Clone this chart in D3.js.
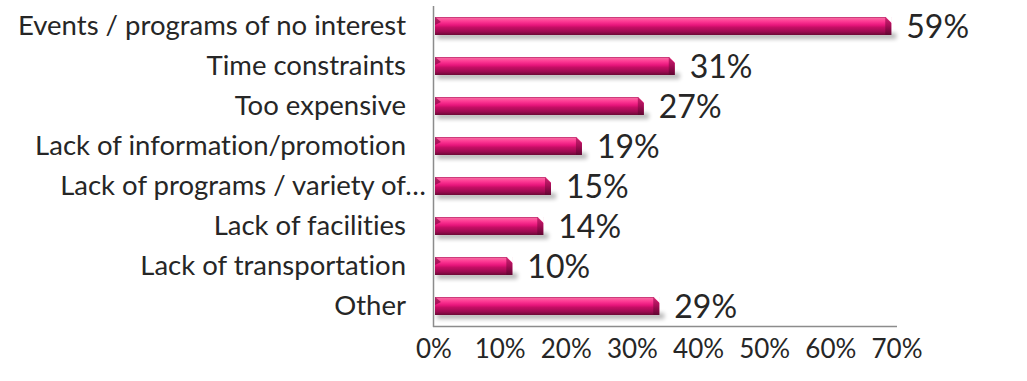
<!DOCTYPE html>
<html>
<head>
<meta charset="utf-8">
<script src="https://cdn.jsdelivr.net/npm/d3@7"></script>
<style>
  html, body { margin: 0; padding: 0; background: #ffffff; }
  svg { display: block; }
  text { font-family: Lato, "Noto Sans", sans-serif; fill: #262626; font-variant-ligatures: none; }
</style>
</head>
<body>
<svg id="chart" width="1027" height="381"></svg>
<script>
// Reasons for not attending, share of respondents (%)
const categories = [
  "Events / programs of no interest",
  "Time constraints",
  "Too expensive",
  "Lack of information/promotion",
  "Lack of programs / variety of…",
  "Lack of facilities",
  "Lack of transportation",
  "Other"
];
const values = [59, 31, 27, 19, 15, 14, 10, 29];
const tickValues = [0, 10, 20, 30, 40, 50, 60, 70];

const svg = d3.select("#chart");
const defs = svg.append("defs");

// Glossy magenta fill running top to bottom across each bar
const grad = defs.append("linearGradient")
  .attr("id", "barFill").attr("x1", 0).attr("y1", 0).attr("x2", 0).attr("y2", 1);
[
  [0.00, "#b8276a"], [0.08, "#f6639f"], [0.22, "#ff3e96"], [0.45, "#e8157c"],
  [0.58, "#c40e64"], [0.82, "#9c0b51"], [1.00, "#6c0835"]
].forEach(([o, c]) => grad.append("stop").attr("offset", o).attr("stop-color", c));

const capGrad = defs.append("linearGradient")
  .attr("id", "capFill").attr("x1", 0).attr("y1", 0).attr("x2", 0).attr("y2", 1);
[[0, "#c21a68"], [0.5, "#9a0c50"], [1, "#5e0630"]]
  .forEach(([o, c]) => capGrad.append("stop").attr("offset", o).attr("stop-color", c));

defs.append("filter").attr("id", "soft").attr("x", "-20%").attr("y", "-100%")
  .attr("width", "140%").attr("height", "300%")
  .append("feGaussianBlur").attr("stdDeviation", 2);

// Scales: bars sit on the receding floor, tick labels on the front edge
const xBar = d3.scaleLinear().domain([0, 60]).range([435, 899]);
const xAxis = d3.scaleLinear().domain([0, 70]).range([434, 897]);
const y = d3.scaleBand().domain(categories).range([6, 326])
  .paddingInner(0.55).paddingOuter(0.275);

const rows = categories.map((c, i) => ({ cat: c, v: values[i] }));

// Shadows under the bars
svg.append("g").selectAll("rect").data(rows).join("rect")
  .attr("x", d => xBar(0) + 2)
  .attr("y", d => y(d.cat) + y.bandwidth() - 2)
  .attr("width", d => xBar(d.v) - xBar(0) + 3)
  .attr("height", 6)
  .attr("fill", "#000").attr("opacity", 0.28)
  .attr("filter", "url(#soft)");

// Bars
const bars = svg.append("g").selectAll("g").data(rows).join("g");
bars.append("rect")
  .attr("x", xBar(0))
  .attr("y", d => y(d.cat))
  .attr("width", d => xBar(d.v) - xBar(0))
  .attr("height", y.bandwidth())
  .attr("fill", "url(#barFill)");

// Bevelled end face of each bar
bars.append("path")
  .attr("d", d => {
    const x1 = xBar(d.v), y0 = y(d.cat), y1 = y0 + y.bandwidth(), b = 6;
    return `M${x1 - b},${y0}L${x1},${y0 + b}L${x1},${y1}L${x1 - b},${y1}Z`;
  })
  .attr("fill", "url(#capFill)").attr("opacity", 0.85);
bars.append("path")
  .attr("d", d => {
    const x1 = xBar(d.v), y0 = y(d.cat), b = 6;
    return `M${x1 - b},${y0 - 0.5}L${x1 + 0.5},${y0 - 0.5}L${x1 + 0.5},${y0 + b}Z`;
  })
  .attr("fill", "#ffffff");
// Small chamfer at the start of each bar
bars.append("path")
  .attr("d", d => {
    const x0 = xBar(0), y0 = y(d.cat);
    return `M${x0},${y0}L${x0 + 6},${y0 + 5}L${x0},${y0 + 8}Z`;
  })
  .attr("fill", "#8a0a48").attr("opacity", 0.7);

// Axis frame
svg.append("line")
  .attr("x1", 433.5).attr("x2", 433.5).attr("y1", 6).attr("y2", 327)
  .attr("stroke", "#8c8c8c").attr("stroke-width", 1.5);
svg.append("line")
  .attr("x1", 433).attr("x2", xAxis(70)).attr("y1", 326.5).attr("y2", 326.5)
  .attr("stroke", "#8c8c8c").attr("stroke-width", 1.5);

// Category labels
svg.append("g").selectAll("text").data(rows).join("text")
  .attr("x", d => d.cat.endsWith("…") ? 426 : 406)
  .attr("y", d => y(d.cat) + y.bandwidth() / 2 + 9)
  .attr("text-anchor", "end")
  .style("font-size", "27.5px")
  .text(d => d.cat);

// Value labels
svg.append("g").selectAll("text").data(rows).join("text")
  .attr("x", d => xBar(d.v) + 15)
  .attr("y", d => y(d.cat) + y.bandwidth() / 2 + 12)
  .style("font-size", "32px")
  .text(d => d.v + "%");

// Percentage axis labels
svg.append("g").selectAll("text").data(tickValues).join("text")
  .attr("x", d => xAxis(d))
  .attr("y", 358)
  .attr("text-anchor", "middle")
  .style("font-size", "26px")
  .text(d => d + "%");
</script>
</body>
</html>
